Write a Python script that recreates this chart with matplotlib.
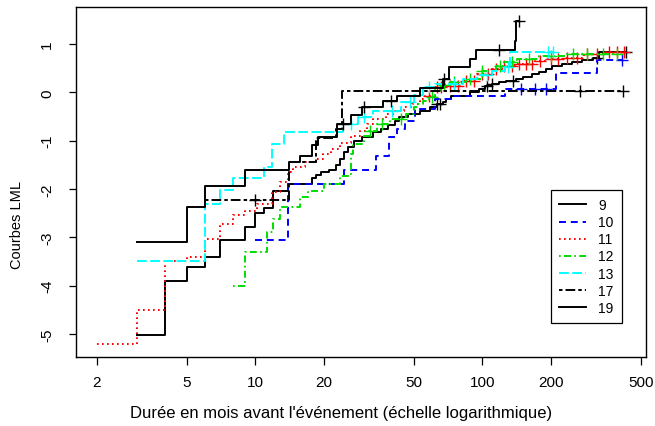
import numpy as np
import matplotlib.pyplot as plt

plt.rcParams['font.family'] = ['Liberation Sans', 'DejaVu Sans']
plt.rcParams['lines.scale_dashes'] = False

# log(-log S(t)) curves by group: step times and values, end of follow-up, censored times
t9 = [3, 4, 5, 6, 7, 9, 10, 10.9, 11.9, 13.9, 17.7, 18.5, 19.5, 21, 22.6, 23.5, 24.6, 25.5,
      27.3, 29.4, 33, 35.6, 38.2, 41, 43, 47, 53, 59, 63, 67, 69, 73, 88, 96.5, 103, 110,
      118, 127, 140, 151, 165, 178, 190, 203, 225, 249, 275, 306, 326]
v9 = [-5.03, -3.91, -3.62, -3.40, -3.05, -2.78, -2.49, -2.40, -2.04, -1.90, -1.78, -1.71,
      -1.66, -1.61, -1.50, -1.38, -1.24, -1.14, -1.00, -0.93, -0.83, -0.76, -0.68, -0.59,
      -0.52, -0.45, -0.38, -0.31, -0.24, -0.21, -0.14, -0.07, 0.0, 0.07, 0.14, 0.17, 0.21,
      0.24, 0.28, 0.31, 0.38, 0.41, 0.48, 0.55, 0.58, 0.62, 0.66, 0.72, 0.84]
end9 = 430
cens9 = [63, 65, 105, 110, 136, 320, 430]

t10 = [10, 13.9, 24.6, 34, 38.6, 42, 45.7, 50.5, 62, 74, 126, 211, 320]
v10 = [-3.05, -1.90, -1.60, -1.31, -0.93, -0.76, -0.59, -0.35, -0.14, -0.07, 0.07, 0.40, 0.67]
end10 = 412
cens10 = [148, 170, 190, 412]

t11 = [2, 3, 4, 5, 6, 7, 8, 9, 10.2, 11.8, 12.8, 13.9, 14.6, 16.6, 18.5, 19.8, 21.5, 23.5,
       26.4, 28.8, 31, 33, 37.5, 41, 45, 49, 53, 56, 59, 62, 70, 81, 95, 110, 122, 140,
       170, 195, 230, 280, 340]
v11 = [-5.21, -4.51, -3.49, -3.40, -3.04, -2.73, -2.55, -2.45, -2.31, -2.07, -1.86, -1.66,
       -1.55, -1.45, -1.38, -1.28, -1.17, -1.04, -0.90, -0.80, -0.66, -0.55, -0.45, -0.38,
       -0.31, -0.24, -0.14, -0.07, 0.03, 0.10, 0.14, 0.24, 0.38, 0.48, 0.55, 0.59, 0.65,
       0.69, 0.72, 0.79, 0.84]
end11 = 420
cens11 = [58, 63, 66, 72, 78, 85, 92, 100, 106, 115, 125, 135, 145, 155, 165, 180, 200,
          215, 235, 260, 290, 320, 360, 390, 420]

t12 = [8, 9, 11.2, 12, 12.8, 15.8, 17.1, 20, 23.5, 26.3, 27, 30, 31.6, 34.5, 39, 46, 50,
       52, 55, 58, 62, 66, 72, 85, 100, 115, 124, 142, 178, 233]
v12 = [-4.02, -3.31, -2.90, -2.62, -2.38, -2.17, -2.04, -1.90, -1.73, -1.28, -1.07, -0.90,
       -0.80, -0.66, -0.55, -0.45, -0.31, -0.24, -0.17, -0.10, 0.05, 0.15, 0.22, 0.28, 0.45,
       0.55, 0.62, 0.69, 0.76, 0.79]
end12 = 390
cens12 = [32, 36, 44, 60, 68, 75, 88, 100, 120, 135, 160, 200, 250, 290, 340, 390]

t13 = [3, 6, 7, 8, 10.9, 11.8, 13.3, 24.4, 28.3, 33, 44, 50, 55, 62, 82, 95, 110, 126, 132]
v13 = [-3.49, -2.31, -2.03, -1.78, -1.55, -1.07, -0.83, -0.66, -0.52, -0.38, -0.21, -0.05,
       0.10, 0.17, 0.28, 0.35, 0.45, 0.52, 0.83]
end13 = 205
cens13 = [26.5, 30, 40, 48, 58, 75, 105, 130, 195, 205]

t17 = [6, 14, 18.5, 22.6, 24]
v17 = [-2.24, -1.45, -0.95, -0.75, 0.03]
end17 = 418
cens17 = [10, 270, 418]

t19 = [3, 5, 6, 9, 14, 15.8, 17.7, 18.9, 22.9, 26.4, 29.6, 36.3, 42, 53, 67, 71, 88.6, 94,
       139, 141]
v19 = [-3.09, -2.38, -1.93, -1.60, -1.45, -1.31, -1.10, -0.93, -0.66, -0.48, -0.31, -0.17,
       -0.07, 0.08, 0.28, 0.52, 0.69, 0.88, 1.07, 1.48]
end19 = 145
cens19 = [24.4, 30, 39.7, 68, 118, 145]

groups = ['9', '10', '11', '12', '13', '17', '19']
curves = [(t9, v9, end9, cens9), (t10, v10, end10, cens10), (t11, v11, end11, cens11),
          (t12, v12, end12, cens12), (t13, v13, end13, cens13), (t17, v17, end17, cens17),
          (t19, v19, end19, cens19)]
colors = ['black', '#0000ff', '#ff0000', '#00dd00', '#00ffff', 'black', 'black']
dashes = [(None, None), (5, 3.5), (1.2, 2.4), (1.2, 2.4, 5, 2.4), (7, 2.5),
          (2.5, 2.2, 7, 2.2), (None, None)]

fig = plt.figure(figsize=(6.55, 4.27), dpi=100)
ax = fig.add_axes([0.1156, 0.1623, 0.8699, 0.8183])

for name, (t, v, end, cens), col, dsh in zip(groups, curves, colors, dashes):
    t = np.array(t, dtype=float)
    v = np.array(v, dtype=float)
    tt = np.append(t, end)
    vv = np.append(v, v[-1])
    line, = ax.step(tt, vv, where='post', color=col, lw=1.4, label=name)
    if dsh[0] is not None:
        line.set_dashes(dsh)
    c = np.array(cens, dtype=float)
    idx = np.searchsorted(t, c, side='right') - 1
    ax.plot(c, v[idx], ls='none', marker='+', ms=9, mew=1.0, color=col)

ax.set_xscale('log')
ax.set_xlim(1.616, 523)
ax.set_ylim(-5.474, 1.76)
xt = [2, 5, 10, 20, 50, 100, 200, 500]
ax.set_xticks(xt)
ax.set_xticklabels([str(x) for x in xt])
ax.xaxis.set_minor_locator(plt.NullLocator())
ax.set_yticks(range(-5, 2))
ax.set_yticklabels([str(y) for y in range(-5, 2)], rotation=90, va='center')
ax.tick_params(direction='out', length=5.4, width=0.9, labelsize=11)
ax.tick_params(axis='x', pad=8)
ax.tick_params(axis='y', pad=10)
for s in ax.spines.values():
    s.set_linewidth(1.0)

ax.set_xlabel("Durée en mois avant l'événement (échelle logarithmique)", fontsize=12)
ax.set_ylabel("Courbes LML", fontsize=10.5)
ax.xaxis.set_label_coords(0.465, -0.138)
ax.yaxis.set_label_coords(-0.091, 0.38)

leg = ax.legend(loc='lower right', bbox_to_anchor=(0.959, 0.0965), fontsize=10,
                fancybox=False, edgecolor='black', framealpha=1, handlelength=1.9,
                handletextpad=0.9, labelspacing=0.22, borderpad=0.6, borderaxespad=0)
leg.get_frame().set_linewidth(0.9)

fig.savefig('out.png', dpi=100)
